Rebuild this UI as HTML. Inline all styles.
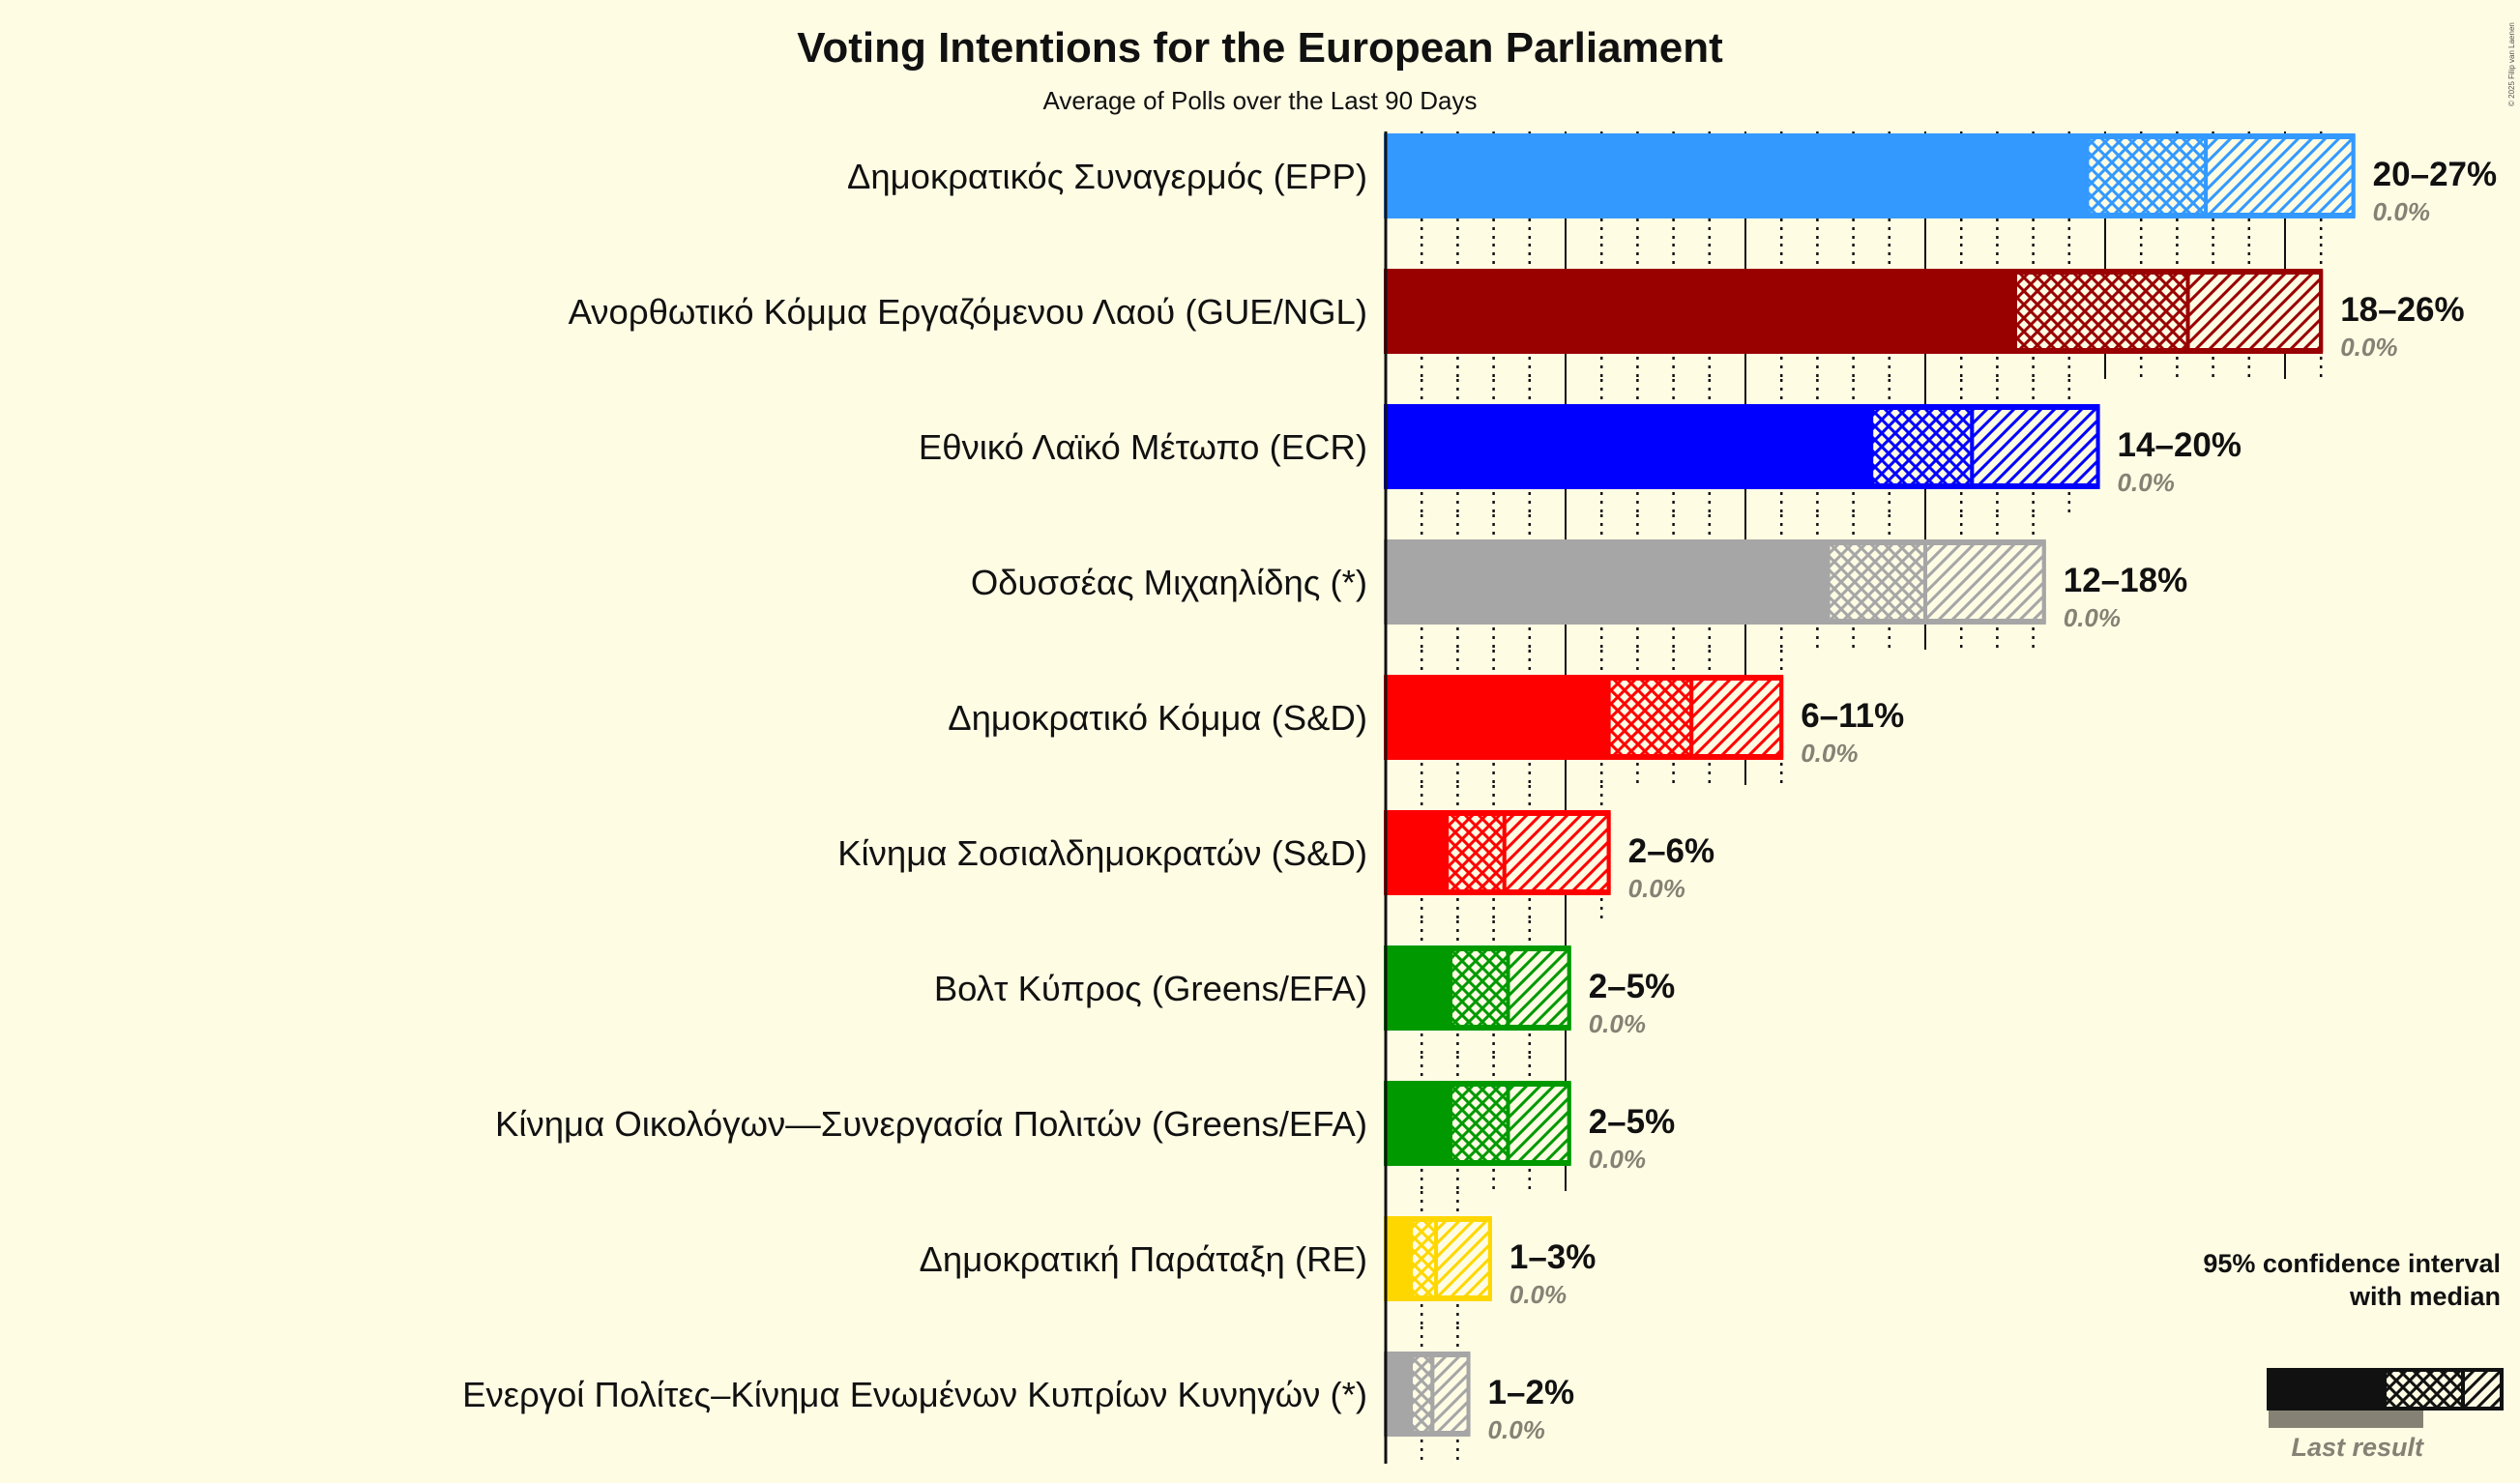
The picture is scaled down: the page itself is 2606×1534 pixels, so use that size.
<!DOCTYPE html>
<html><head><meta charset="utf-8"><style>
html,body{margin:0;padding:0;background:#FFFCE4;}
svg{display:block;font-family:"Liberation Sans","DejaVu Sans",sans-serif;}
</style></head><body>
<svg id="chart" width="2606" height="1534" viewBox="0 0 2606 1534" xmlns="http://www.w3.org/2000/svg">
<defs id="defs"></defs>
<rect x="0" y="0" width="2606" height="1534" fill="#FFFCE4"/>
<text x="1303" y="64" text-anchor="middle" font-size="44" font-weight="bold" fill="#111">Voting Intentions for the European Parliament</text>
<text x="1303" y="113" text-anchor="middle" font-size="26" fill="#111">Average of Polls over the Last 90 Days</text>
<text x="2600" y="110" font-size="8" fill="#555" transform="rotate(-90 2600 110)">© 2025 Filip van Laenen</text>
<g id="grid"></g>
<g id="bars"></g>
<line x1="1433" y1="136" x2="1433" y2="1514" stroke="#111" stroke-width="3"/>
<g>
<text x="2586" y="1316" text-anchor="end" font-size="27" font-weight="bold" fill="#111">95% confidence interval</text>
<text x="2586" y="1350" text-anchor="end" font-size="27" font-weight="bold" fill="#111">with median</text>
<rect x="2346" y="1459" width="160" height="18" fill="#858275"/>
<rect x="2344" y="1415" width="122" height="44" fill="#111"/>
<rect x="2466" y="1417" width="81" height="40" fill="url(#cross-legend)" stroke="#111" stroke-width="4"/>
<rect x="2547" y="1417" width="40" height="40" fill="url(#diag-legend)" stroke="#111" stroke-width="4"/>
<text x="2506" y="1506" text-anchor="end" font-size="27" font-style="italic" font-weight="bold" fill="#858275">Last result</text>
</g>
</svg>
<script>
const parties = ["Δημοκρατικός Συναγερμός (EPP)","Ανορθωτικό Κόμμα Εργαζόμενου Λαού (GUE/NGL)","Εθνικό Λαϊκό Μέτωπο (ECR)","Οδυσσέας Μιχαηλίδης (*)","Δημοκρατικό Κόμμα (S&D)","Κίνημα Σοσιαλδημοκρατών (S&D)","Βολτ Κύπρος (Greens/EFA)","Κίνημα Οικολόγων—Συνεργασία Πολιτών (Greens/EFA)","Δημοκρατική Παράταξη (RE)","Ενεργοί Πολίτες–Κίνημα Ενωμένων Κυπρίων Κυνηγών (*)"];
const lows = [19.5,17.5,13.5,12.3,6.2,1.7,1.8,1.8,0.7,0.7];
const medians = [22.8,22.3,16.3,15.0,8.5,3.3,3.4,3.4,1.4,1.3];
const highs = [26.9,26.0,19.8,18.3,11.0,6.2,5.1,5.1,2.9,2.3];
const rangeLabels = ["20–27%","18–26%","14–20%","12–18%","6–11%","2–6%","2–5%","2–5%","1–3%","1–2%"];
const lastResults = ["0.0%","0.0%","0.0%","0.0%","0.0%","0.0%","0.0%","0.0%","0.0%","0.0%"];
const colors = ["#3399FF","#990000","#0000FF","#A6A6A6","#FF0000","#FF0000","#009900","#009900","#FFD700","#A6A6A6"];

const NS="http://www.w3.org/2000/svg";
const x0=1433, pxPer=37.2, rowTop=182, rowStep=140, barH=84;
function xs(v){return x0+v*pxPer;}
function ys(i){return rowTop+i*rowStep;}
function mk(tag,attrs,parent){const e=document.createElementNS(NS,tag);for(const k in attrs)e.setAttribute(k,attrs[k]);parent.appendChild(e);return e;}
const defs=document.getElementById('defs'),grid=document.getElementById('grid'),bars=document.getElementById('bars');
function makePatterns(id,col){
  const c=mk('pattern',{id:'cross-'+id,width:14,height:14,patternUnits:'userSpaceOnUse'},defs);
  mk('rect',{width:14,height:14,fill:'#FFFCE4'},c);
  mk('path',{d:'M-2,-2 L16,16 M-2,12 L2,16 M12,-2 L16,2 M16,-2 L-2,16 M2,-2 L-2,2 M16,12 L12,16',stroke:col,'stroke-width':3},c);
  const d=mk('pattern',{id:'diag-'+id,width:14,height:14,patternUnits:'userSpaceOnUse'},defs);
  mk('rect',{width:14,height:14,fill:'#FFFCE4'},d);
  mk('path',{d:'M-2,16 L16,-2 M-2,2 L2,-2 M12,16 L16,12',stroke:col,'stroke-width':3},d);
}
makePatterns('legend','#111');
parties.forEach((p,i)=>{
  const cy=ys(i), top=cy-barH/2, col=colors[i];
  makePatterns('r'+i,col);
  const y1=(i===0?136:cy-rowStep/2), y2=(i===parties.length-1?1514:cy+rowStep/2);
  for(let v=1;v<=Math.floor(highs[i]);v++){
    const ln=mk('line',{x1:xs(v),x2:xs(v),y1:y1,y2:y2,stroke:'#111','stroke-width':v%5===0?2:2.5,'stroke-dasharray':v%5===0?'none':'3,6'},grid);
    
    
  }
  const g=mk('g',{},bars);
  
  
  const s=mk('rect',{x:xs(0),y:top,width:xs(lows[i])-xs(0),height:barH,fill:col},g);
  
  
  const c=mk('rect',{x:xs(lows[i]),y:top+2,width:xs(medians[i])-xs(lows[i]),height:barH-4,fill:'url(#cross-r'+i+')',stroke:col,'stroke-width':4},g);
  
  
  const d=mk('rect',{x:xs(medians[i]),y:top+2,width:xs(highs[i])-xs(medians[i]),height:barH-4,fill:'url(#diag-r'+i+')',stroke:col,'stroke-width':4},g);
  
  
  const o=mk('rect',{x:xs(0),y:top,width:xs(highs[i])-xs(0),height:barH,fill:'none',stroke:col,'stroke-width':4},g);
  
  
  const n=mk('text',{x:1414,y:cy+13,'text-anchor':'end','font-size':36.5,fill:'#111'},g);
  n.textContent=p;
  
  
  const r=mk('text',{x:xs(highs[i])+20,y:cy+10,'font-size':35,'font-weight':'bold',fill:'#111'},g);
  r.textContent=rangeLabels[i];
  
  
  const l=mk('text',{x:xs(highs[i])+20,y:cy+46,'font-size':26,'font-style':'italic','font-weight':'bold',fill:'#858275'},g);
  l.textContent=lastResults[i];
  
  
});
</script>
</body></html>
